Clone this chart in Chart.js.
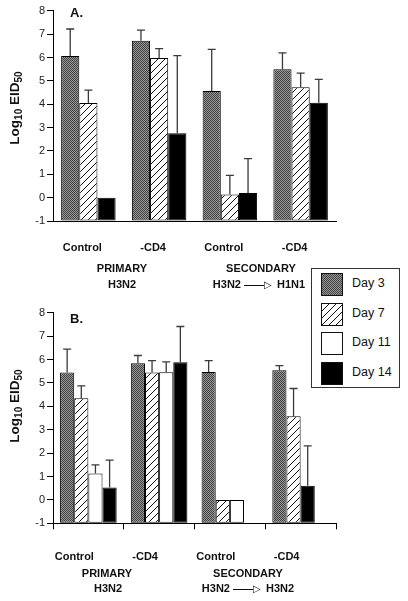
<!DOCTYPE html>
<html>
<head>
<meta charset="utf-8">
<script src="https://cdn.jsdelivr.net/npm/chart.js@4.4.1/dist/chart.umd.min.js"></script>
<style>
body{margin:0;background:#fff;width:408px;height:601px;position:relative;overflow:hidden;font-family:'Liberation Sans',Arial,sans-serif;color:#111}
canvas.panel{position:absolute;left:0}
#chartA{top:0}
#chartB{top:300px}
.txt{position:absolute;text-align:center;font-weight:bold;font-size:11px;line-height:14px;white-space:nowrap}
.ytitle{position:absolute;width:120px;height:16px;line-height:16px;text-align:center;font-weight:bold;font-size:13.5px;transform:rotate(-90deg);white-space:nowrap}
.ytitle sub{font-size:10px;vertical-align:-3px;line-height:0}
.tag{position:absolute;font-weight:bold;font-size:13px}
.arrow{display:inline-block;width:20px;border-top:1px solid #111;vertical-align:middle;margin-left:3px}
.head{font-size:10px;font-weight:normal;margin-right:2px}
#legend{position:absolute;left:311px;top:268px;width:87px;height:118px;border:1px solid #333;background:#fff}
#legend .row{position:absolute;left:9px;height:22px}
#legend canvas{position:absolute;left:0;top:0;box-sizing:border-box;border:1px solid #111}
#legend span{position:absolute;left:31px;top:3px;font-size:12.5px;white-space:nowrap}
</style>
</head>
<body>
<canvas id="chartA" class="panel" width="408" height="300"></canvas>
<canvas id="chartB" class="panel" width="408" height="301"></canvas>

<div class="tag" style="left:70px;top:5px">A.</div>
<div class="tag" style="left:70px;top:311px">B.</div>
<div class="ytitle" style="left:-45px;top:100px">Log<sub>10</sub> EID<sub>50</sub></div>
<div class="ytitle" style="left:-45px;top:398px">Log<sub>10</sub> EID<sub>50</sub></div>

<div class="txt" style="left:52px;top:261px;width:140px">PRIMARY</div>
<div class="txt" style="left:52px;top:277px;width:140px">H3N2</div>
<div class="txt" style="left:191px;top:261px;width:140px">SECONDARY</div>
<div class="txt" style="left:189px;top:277px;width:140px">H3N2<span class="arrow"></span><span class="head">▷</span> H1N1</div>

<div class="txt" style="left:37px;top:566px;width:140px">PRIMARY</div>
<div class="txt" style="left:38px;top:581px;width:140px">H3N2</div>
<div class="txt" style="left:178px;top:566px;width:140px">SECONDARY</div>
<div class="txt" style="left:178px;top:581px;width:140px">H3N2<span class="arrow"></span><span class="head">▷</span> H3N2</div>

<div id="legend"></div>

<script>
const categories = ["Control", "-CD4", "Control", "-CD4"];
const dayLabels = ["Day 3", "Day 7", "Day 11", "Day 14"];
const yMin = -1;
const yMax = 8;

// panel A : primary H3N2, secondary H3N2 -> H1N1 (no day 11 samples)
const aDay3 = [6.07, 6.72, 4.57, 5.50];
const aDay7 = [4.05, 5.98, 0.13, 4.73];
const aDay11 = [null, null, null, null];
const aDay14 = [0, 2.76, 0.20, 4.06];
// top of the error bars
const aErr3 = [7.22, 7.17, 6.35, 6.20];
const aErr7 = [4.60, 6.38, 0.95, 5.33];
const aErr11 = [null, null, null, null];
const aErr14 = [null, 6.08, 1.67, 5.06];

// panel B : primary H3N2, secondary H3N2 -> H3N2
const bDay3 = [5.44, 5.84, 5.47, 5.54];
const bDay7 = [4.34, 5.44, 0, 3.58];
const bDay11 = [1.13, 5.46, 0, null];
const bDay14 = [0.53, 5.88, null, 0.61];
const bErr3 = [6.44, 6.17, 5.95, 5.74];
const bErr7 = [4.87, 5.95, null, 4.76];
const bErr11 = [1.50, 5.90, null, null];
const bErr14 = [1.70, 7.41, null, 2.31];

function makeTile(kind) {
    let c = document.createElement('canvas');
    let x;
    if (kind == 'dots') {
        c.width = 2; c.height = 2;
        x = c.getContext('2d');
        x.fillStyle = '#999999';
        x.fillRect(0, 0, 2, 2);
        x.fillStyle = '#404040';
        x.fillRect(0, 0, 1, 1);
        x.fillRect(1, 1, 1, 1);
    } else {
        c.width = 7; c.height = 7;
        x = c.getContext('2d');
        x.fillStyle = '#fff';
        x.fillRect(0, 0, 7, 7);
        x.strokeStyle = '#111';
        x.lineWidth = 1;
        x.beginPath();
        x.moveTo(-1, 8); x.lineTo(8, -1);
        x.moveTo(-1, 1); x.lineTo(1, -1);
        x.moveTo(6, 8); x.lineTo(8, 6);
        x.stroke();
    }
    return c;
}
const tmp = document.createElement('canvas').getContext('2d');
const fills = [
    tmp.createPattern(makeTile('dots'), 'repeat'),
    tmp.createPattern(makeTile('hatch'), 'repeat'),
    '#ffffff',
    '#000000'
];

// bars in each group are packed to the left like in the original figure
function packSlots(days, errs, catPct) {
    let nSlots = 0;
    let cols = categories.map(function(c, i) {
        let list = [];
        days.forEach(function(d, k) {
            if (d[i] !== null) list.push({v: d[i], e: errs[k][i], k: k});
        });
        nSlots = Math.max(nSlots, list.length);
        return list;
    });
    let sets = [];
    for (let s = 0; s < nSlots; s++) {
        sets.push({
            label: 'slot ' + (s + 1),
            data: cols.map(l => l[s] ? l[s].v : null),
            err: cols.map(l => l[s] ? l[s].e : null),
            backgroundColor: cols.map(l => l[s] ? fills[l[s].k] : 'rgba(0,0,0,0)'),
            borderColor: '#000',
            borderWidth: 1,
            borderSkipped: false,
            base: yMin,
            categoryPercentage: catPct,
            barPercentage: 1
        });
    }
    return sets;
}

const errorBars = {
    id: 'errorBars',
    afterDatasetsDraw(chart) {
        let ctx = chart.ctx;
        let y = chart.scales.y;
        chart.data.datasets.forEach(function(ds, i) {
            chart.getDatasetMeta(i).data.forEach(function(bar, j) {
                let e = ds.err[j];
                if (e == null || ds.data[j] == null) return;
                let yTop = y.getPixelForValue(e);
                ctx.save();
                ctx.strokeStyle = '#3a3a3a';
                ctx.lineWidth = 1.3;
                ctx.beginPath();
                ctx.moveTo(bar.x, bar.y);
                ctx.lineTo(bar.x, yTop);
                ctx.moveTo(bar.x - 4, yTop);
                ctx.lineTo(bar.x + 4, yTop);
                ctx.stroke();
                ctx.restore();
            });
        });
    }
};

function makeChart(id, sets, opt) {
    return new Chart(document.getElementById(id), {
        type: 'bar',
        data: {labels: categories, datasets: sets},
        plugins: [errorBars],
        options: {
            responsive: false,
            animation: false,
            layout: {padding: {top: opt.padTop, right: 72, left: 0, bottom: 0}},
            plugins: {legend: {display: false}, tooltip: {enabled: false}},
            scales: {
                x: {
                    grid: {
                        display: opt.xTicks,
                        drawOnChartArea: false,
                        drawTicks: opt.xTicks,
                        tickLength: 6,
                        color: '#000'
                    },
                    border: {display: true, color: '#000', width: 1},
                    ticks: {
                        color: '#111',
                        font: {family: "'Liberation Sans', Arial", size: 11, weight: 'bold'},
                        padding: opt.labelPad,
                        labelOffset: opt.labelOffset,
                        maxRotation: 0
                    },
                    afterFit: function(s) { s.height = opt.xHeight; }
                },
                y: {
                    min: yMin,
                    max: yMax,
                    ticks: {
                        stepSize: 1,
                        color: '#222',
                        padding: 2,
                        font: {family: "'Liberation Sans', Arial", size: 11}
                    },
                    grid: {display: true, drawOnChartArea: false, drawTicks: true, tickLength: 6, color: '#000'},
                    border: {display: true, color: '#000', width: 1},
                    afterFit: function(s) { s.width = 53; }
                }
            }
        }
    });
}

makeChart('chartA', packSlots([aDay3, aDay7, aDay11, aDay14], [aErr3, aErr7, aErr11, aErr14], 0.77),
    {padTop: 10.8, xHeight: 79, xTicks: false, labelPad: 20, labelOffset: -6});
makeChart('chartB', packSlots([bDay3, bDay7, bDay11, bDay14], [bErr3, bErr7, bErr11, bErr14], 0.8),
    {padTop: 12.7, xHeight: 77.7, xTicks: true, labelPad: 21, labelOffset: -14});

// legend shared by both panels
let legend = document.getElementById('legend');
dayLabels.forEach(function(lab, i) {
    let row = document.createElement('div');
    row.className = 'row';
    row.style.top = (4 + i * 29.7) + 'px';
    let sw = document.createElement('canvas');
    sw.width = 20; sw.height = 21;
    let sc = sw.getContext('2d');
    sc.fillStyle = fills[i];
    sc.fillRect(0, 0, 20, 21);
    let sp = document.createElement('span');
    sp.textContent = lab;
    row.appendChild(sw);
    row.appendChild(sp);
    legend.appendChild(row);
});
</script>
</body>
</html>
